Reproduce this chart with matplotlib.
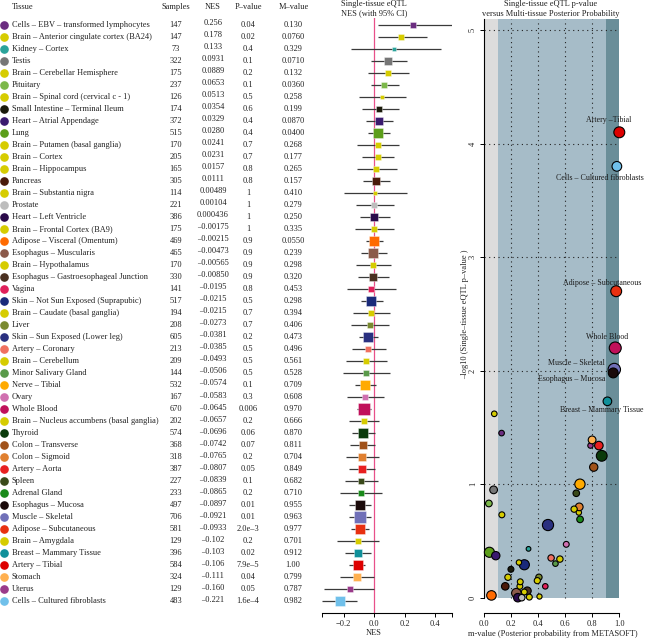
import numpy as np
import matplotlib
matplotlib.use("Agg")
import matplotlib.pyplot as plt
from matplotlib import transforms
from matplotlib.patches import Rectangle

plt.rcParams['font.family'] = ['Liberation Serif', 'DejaVu Serif']
plt.rcParams['font.size'] = 6

# ---- data ----
tissues = [
    "Cells – EBV – transformed lymphocytes", "Brain – Anterior cingulate cortex (BA24)",
    "Kidney – Cortex", "Testis", "Brain – Cerebellar Hemisphere", "Pituitary",
    "Brain – Spinal cord (cervical c - 1)", "Small Intestine – Terminal Ileum",
    "Heart – Atrial Appendage", "Lung", "Brain – Putamen (basal ganglia)", "Brain – Cortex",
    "Brain – Hippocampus", "Pancreas", "Brain – Substantia nigra", "Prostate",
    "Heart – Left Ventricle", "Brain – Frontal Cortex (BA9)", "Adipose – Visceral (Omentum)",
    "Esophagus – Muscularis", "Brain – Hypothalamus", "Esophagus – Gastroesophageal Junction",
    "Vagina", "Skin – Not Sun Exposed (Suprapubic)", "Brain – Caudate (basal ganglia)",
    "Liver", "Skin – Sun Exposed (Lower leg)", "Artery – Coronary", "Brain – Cerebellum",
    "Minor Salivary Gland", "Nerve – Tibial", "Ovary", "Whole Blood",
    "Brain – Nucleus accumbens (basal ganglia)", "Thyroid", "Colon – Transverse",
    "Colon – Sigmoid", "Artery – Aorta", "Spleen", "Adrenal Gland", "Esophagus – Mucosa",
    "Muscle – Skeletal", "Adipose – Subcutaneous", "Brain – Amygdala",
    "Breast – Mammary Tissue", "Artery – Tibial", "Stomach", "Uterus",
    "Cells – Cultured fibroblasts",
]
samples = [147, 147, 73, 322, 175, 237, 126, 174, 372, 515, 170, 205, 165, 305, 114, 221,
           386, 175, 469, 465, 170, 330, 141, 517, 194, 208, 605, 213, 209, 144, 532, 167,
           670, 202, 574, 368, 318, 387, 227, 233, 497, 706, 581, 129, 396, 584, 324, 129, 483]
nes = [0.256, 0.178, 0.133, 0.0931, 0.0889, 0.0653, 0.0513, 0.0354, 0.0329, 0.0280,
       0.0241, 0.0231, 0.0157, 0.0111, 0.00489, 0.00104, 0.000436, -0.00175, -0.00215,
       -0.00473, -0.00565, -0.00850, -0.0195, -0.0215, -0.0215, -0.0273, -0.0381, -0.0385,
       -0.0493, -0.0506, -0.0574, -0.0583, -0.0645, -0.0657, -0.0696, -0.0742, -0.0765,
       -0.0807, -0.0839, -0.0865, -0.0897, -0.0921, -0.0933, -0.102, -0.103, -0.106,
       -0.111, -0.160, -0.221]
ci_lo = [0.024, 0.028, -0.153, -0.017, -0.039, -0.017, -0.096, -0.079, -0.050, -0.039,
         -0.109, -0.077, -0.109, -0.072, -0.195, -0.118, -0.094, -0.127, -0.052, -0.083,
         -0.118, -0.105, -0.177, -0.087, -0.140, -0.153, -0.098, -0.146, -0.184, -0.205,
         -0.125, -0.179, -0.109, -0.162, -0.142, -0.155, -0.186, -0.162, -0.190, -0.223,
         -0.162, -0.164, -0.153, -0.245, -0.192, -0.162, -0.223, -0.326, -0.343]
ci_hi = [0.514, 0.345, 0.437, 0.219, 0.232, 0.164, 0.210, 0.162, 0.127, 0.103,
         0.166, 0.131, 0.151, 0.103, 0.214, 0.131, 0.103, 0.131, 0.057, 0.083,
         0.114, 0.096, 0.146, 0.057, 0.103, 0.100, 0.028, 0.079, 0.087, 0.107,
         0.015, 0.068, -0.017, 0.031, 0.004, 0.007, 0.033, 0.004, 0.024, 0.050,
         -0.017, -0.020, -0.033, 0.035, -0.017, -0.057, 0.000, 0.000, -0.109]
p_labels = ["0.04", "0.02", "0.4", "0.1", "0.2", "0.1", "0.5", "0.6", "0.4", "0.4",
            "0.7", "0.7", "0.8", "0.8", "1", "1", "1", "1", "0.9", "0.9", "0.9", "0.9",
            "0.8", "0.5", "0.7", "0.7", "0.2", "0.5", "0.5", "0.5", "0.1", "0.3", "0.006",
            "0.2", "0.06", "0.07", "0.2", "0.05", "0.1", "0.2", "0.01", "0.01", "2.0e–3",
            "0.2", "0.02", "7.9e–5", "0.04", "0.05", "1.6e–4"]
m_values = [0.130, 0.0760, 0.329, 0.0710, 0.132, 0.0360, 0.258, 0.199, 0.0870, 0.0400,
            0.268, 0.177, 0.265, 0.157, 0.410, 0.279, 0.250, 0.335, 0.0550, 0.239,
            0.298, 0.320, 0.453, 0.298, 0.394, 0.406, 0.473, 0.496, 0.561, 0.528,
            0.709, 0.608, 0.970, 0.666, 0.870, 0.811, 0.704, 0.849, 0.682, 0.710,
            0.955, 0.963, 0.977, 0.701, 0.912, 1.00, 0.799, 0.787, 0.982]
neg_log10_p = [1.45, 1.62, 0.43, 0.95, 0.73, 0.83, 0.31, 0.25, 0.37, 0.40,
               0.14, 0.18, 0.10, 0.10, 0.01, 0.00, 0.00, 0.005, 0.02, 0.04,
               0.05, 0.06, 0.10, 0.29, 0.15, 0.18, 0.64, 0.35, 0.34, 0.30,
               1.00, 0.47, 2.20, 0.78, 1.25, 1.15, 0.80, 1.34, 0.92, 0.69,
               1.98, 2.01, 2.70, 0.75, 1.73, 4.10, 1.39, 1.34, 3.80]
colors = ["#6b2d80", "#d6cc00", "#2aa39a", "#767676", "#d6cc00", "#7cb84a", "#d6cc00",
          "#1a1a0a", "#3a1a6e", "#5c9e1a", "#d6cc00", "#d6cc00", "#d6cc00", "#4a1a0a",
          "#d6cc00", "#bdbdbd", "#2a0a4a", "#d6cc00", "#ff6a00", "#8b5a4a", "#d6cc00",
          "#4a3020", "#e0205a", "#1a2a7a", "#d6cc00", "#7a8a30", "#2a3080", "#f07060",
          "#d6cc00", "#5a9a4a", "#ffaa00", "#d070b0", "#c0105a", "#d6cc00", "#0a3a0a",
          "#a0521a", "#e08030", "#e82020", "#3a4a1a", "#1a8a1a", "#1a0a0a", "#7070b8",
          "#e83010", "#d6cc00", "#10909a", "#dd0000", "#ffb050", "#9a3a8a", "#70c0ea"]

# labelled points in the right panel: (text, text x, text y)
callouts = [("Artery –Tibial", 0.924, 4.21),
            ("Cells – Cultured fibroblasts", 0.86, 3.70),
            ("Adipose – Subcutaneous", 0.87, 2.775),
            ("Whole Blood", 0.909, 2.30),
            ("Muscle – Skeletal", 0.685, 2.07),
            ("Esophagus – Mucosa", 0.647, 1.93),
            ("Breast – Mammary Tissue", 0.87, 1.654)]

# ---- layout helpers (pixel positions of the 646x640 reference) ----
W, H = 646, 640
fig = plt.figure(figsize=(W / 100, H / 100), dpi=100)


def fx(px):
    return px / W


def fy(py):
    return 1 - py / H


txt_col = "#222222"
n = len(tissues)
rows = np.arange(n)
row0, step = 25.0, 12.01
zero_px, px_per_unit = 374.0, 152.5

# ---- forest plot ----
lo_min, hi_max = min(ci_lo), max(ci_hi)
left_px = zero_px + lo_min * px_per_unit
ax_f = fig.add_axes([fx(left_px), fy(613), (hi_max - lo_min) * px_per_unit / W, 595 / H])
ax_f.set_xlim(lo_min, hi_max)
ax_f.set_ylim((613 - row0) / step, (18 - row0) / step)
ax_f.patch.set_alpha(0)

ax_f.axvline(0, color="#e8508a", lw=0.9, zorder=1)
ax_f.hlines(rows, ci_lo, ci_hi, color="#3a3a3a", lw=0.9, zorder=2)
for i in rows:
    ax_f.plot(nes[i], i, marker="s", ms=0.32 * np.sqrt(samples[i]), mfc=colors[i],
              mec=(1, 1, 1, 0.5), mew=0.5, ls="none", zorder=3)

for s in ["left", "right", "top"]:
    ax_f.spines[s].set_visible(False)
ax_f.spines["bottom"].set_bounds(lo_min, hi_max)
ax_f.spines["bottom"].set_linewidth(0.8)
ax_f.set_xticks([lo_min, -0.2, 0.0, 0.2, 0.4, hi_max])
ax_f.set_xticklabels(["", "−0.2", "0.0", "0.2", "0.4", ""], color=txt_col)
ax_f.tick_params(axis="x", length=3, width=0.7, pad=2)
ax_f.set_yticks([])

# ---- table on the left ----
trans = transforms.blended_transform_factory(fig.transFigure, ax_f.transData)
for i in rows:
    ax_f.plot([fx(4)], [i], "o", transform=trans, ms=5.2, color=colors[i], clip_on=False)
    ax_f.text(fx(12), i, tissues[i], transform=trans, ha="left", va="center", color=txt_col)
    ax_f.text(fx(176), i, str(samples[i]), transform=trans, ha="center", va="center",
              color=txt_col)
    ax_f.text(fx(213), i - 0.15, f"{nes[i]:#.3g}".replace("-", "–"), transform=trans,
              ha="center", va="center", color=txt_col)
    ax_f.text(fx(248), i, p_labels[i], transform=trans, ha="center", va="center",
              color=txt_col)
    ax_f.text(fx(293), i, f"{m_values[i]:#.3g}", transform=trans, ha="center",
              va="center", color=txt_col)

for label, xp, ha in [("Tissue", 12, "left"), ("Samples", 176, "center"),
                      ("NES", 213, "center"), ("P–value", 248, "center"),
                      ("M–value", 294, "center")]:
    fig.text(fx(xp), fy(7), label, ha=ha, va="center", color=txt_col)

fig.text(fx(374), fy(4), "Single-tissue eQTL", ha="center", va="center", color=txt_col)
fig.text(fx(374), fy(13.5), "NES (with 95% CI)", ha="center", va="center", color=txt_col)
fig.text(fx(374), fy(633), "NES", ha="center", va="center", color=txt_col)

# ---- scatter: p-value vs m-value ----
ax_s = fig.add_axes([fx(484), fy(613), 135.3 / W, 595 / H])
ax_s.set_xlim(0, 1)
ax_s.set_ylim(-0.135, 5.107)
ax_s.patch.set_alpha(0)
top = 5.1
for x0, x1, c in [(0, 0.1, "#dcdcdc"), (0.1, 0.9, "#a6bcc8"), (0.9, 1.0, "#6a8e99")]:
    ax_s.add_patch(Rectangle((x0, 0), x1 - x0, top, color=c, lw=0, zorder=0))
ax_s.vlines([0.2, 0.4, 0.6, 0.8], 0, top, colors="#222222", lw=0.8,
            linestyles=(0, (1, 3.2)), zorder=1)
ax_s.hlines([1, 2, 3, 4, 5], 0, 1, colors="#222222", lw=0.8,
            linestyles=(0, (1, 3.2)), zorder=1)

order = rows[::-1]
dia_pt = (3.8 + 0.0122 * np.array(samples)) * 0.72
ax_s.scatter(np.array(m_values)[order], np.array(neg_log10_p)[order],
             s=dia_pt[order] ** 2, c=[colors[i] for i in order], edgecolors="black",
             linewidths=0.8, zorder=3, clip_on=False)

for text, tx, ty in callouts:
    ax_s.text(tx, ty, text, ha="center", va="center", color="#1a1a1a", zorder=4,
              fontsize=5.7)

for s in ["right", "top"]:
    ax_s.spines[s].set_visible(False)
ax_s.spines["left"].set_bounds(0, top)
ax_s.spines["bottom"].set_bounds(0, 1)
ax_s.spines["left"].set_linewidth(0.8)
ax_s.spines["bottom"].set_linewidth(0.8)
ax_s.set_xticks(np.arange(0, 1.01, 0.2))
ax_s.set_xticklabels([f"{v:.1f}" for v in np.arange(0, 1.01, 0.2)], color=txt_col)
ax_s.set_yticks(range(6))
ax_s.set_yticklabels([str(v) for v in range(6)], rotation=90, va="center", color=txt_col)
ax_s.tick_params(length=3, width=0.7, pad=2)

fig.text(fx(551), fy(4), "Single-tissue eQTL p-value", ha="center", va="center",
         color=txt_col)
fig.text(fx(551), fy(13.5), "versus Multi-tissue Posterior Probability", ha="center",
         va="center", color=txt_col)
fig.text(fx(553), fy(634), "m-value (Posterior probability from METASOFT)", ha="center",
         va="center", color=txt_col)
fig.text(fx(465), fy(314), "–log10 (Single–tissue eQTL p–value )", rotation=90,
         ha="center", va="center", color=txt_col)

fig.savefig("out.png", dpi=100)
